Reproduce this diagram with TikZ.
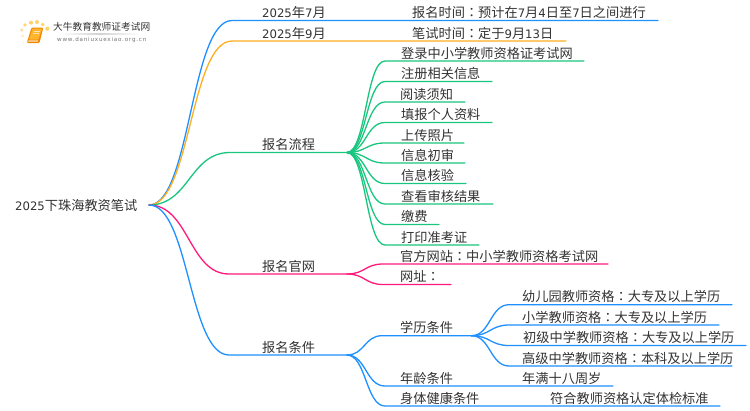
\documentclass[tikz,border=0pt]{standalone}
\usepackage{fontspec}
\usetikzlibrary{calc}
\setmainfont{Noto Sans CJK SC}
\newfontfamily\latf[Scale=0.885]{DejaVu Sans}
\newfontfamily\tcf{Noto Sans CJK TC}
\newfontfamily\urlf[LetterSpace=14]{DejaVu Sans}
\newcommand{\D}[1]{{\latf #1}}
\newcommand{\Cl}{{\tcf ：}}
\definecolor{cblue}{HTML}{1E90FF}
\definecolor{cgold}{HTML}{FFAE1F}
\definecolor{cgreen}{HTML}{19C67F}
\definecolor{cpink}{HTML}{FF1A7C}
\definecolor{ctext}{HTML}{333333}
\definecolor{bookdark}{HTML}{F08A00}
\definecolor{booklight}{HTML}{FFB52E}
\definecolor{dotc}{HTML}{FFD36B}
\tikzset{
  lab/.style={anchor=base west,inner sep=0pt,text=ctext,font=\fontsize{13.2}{15}\selectfont},
  wire/.style={line width=1.3pt,line cap=round},
}
% \lnk{colour}{from}{elbow}{end}
\newcommand{\lnk}[4]{%
  \draw[wire,#1] let \p1=(#2),\p2=(#3),\n1={(\x1+\x2)/2} in
    (#2) .. controls (\n1,\y1) and (\n1,\y2) .. (#3) -- (#4);}
% \lf{name}{colour}{from}{elbow x}{y}{end x}{text x}{text}
\newcommand{\lf}[8]{%
  \coordinate (#1a) at (#4,#5);
  \coordinate (#1b) at (#6,#5);
  \lnk{#2}{#3}{#1a}{#1b}
  \node[lab] (#1) at (#7,#5-2.9) {#8};}
\begin{document}
\begin{tikzpicture}[x=1pt,y=-1pt]
\useasboundingbox (0,0) rectangle (750,410);
\fill[white] (0,0) rectangle (750,410);

% logo
\foreach \px/\py/\r/\o in {21.7/30/1.6/.8,25/25/1.8/.9,31/22.7/2/1,37/22/2/1,42.7/24.5/1.9/1,47.3/28.7/2.1/1,22.7/36/1.3/.5,23.3/42.5/1/.3}
  \fill[dotc,opacity=\o] (\px,\py) circle (\r);
\fill[bookdark,rounded corners=1.2pt] (31.5,27.5) -- (43.3,27.5) -- (39.5,43) -- (26.8,43) -- cycle;
\fill[booklight,rounded corners=.8pt] (32.5,28.5) -- (42,28.5) -- (38.4,39.5) -- (29,39.5) -- cycle;
\fill[white,opacity=.75] (28.5,40.4) -- (38.2,40.4) -- (37.8,41.7) -- (28.1,41.7) -- cycle;
\draw[white,opacity=.6,line width=.5pt] (34,31) -- (40,31) (33.3,33.5) -- (39,33.5);
\node[anchor=base west,inner sep=0pt,text=ctext,font=\fontsize{9.7}{11}\selectfont] (logo) at (53,30.8) {大牛教育教师证考试网};
\shade[left color=white,right color=white,middle color=black!18] (60,33.2) rectangle (140,34);
\node[anchor=base west,inner sep=0pt,text=black!55,font=\fontsize{5.6}{7}\urlf] (url) at (57,41) {www.daniuxuexiao.org.cn};

% root
\node[lab] (root) at (15,210.2) {\D{2025}下珠海教资笔试};
\coordinate (r) at (149,205);

% level one
\lf{jul}{cblue}{r}{232}{20.5}{658}{262}{\D{2025}年\D{7}月}
\node[lab] (julb) at (412,17.6) {报名时间\Cl 预计在\D{7}月\D{4}日至\D{7}日之间进行};
\lf{sep}{cgold}{r}{232}{41}{566}{262}{\D{2025}年\D{9}月}
\node[lab] (sepb) at (412,38.1) {笔试时间\Cl 定于\D{9}月\D{13}日};
\lf{flow}{cgreen}{r}{230}{152.5}{347}{262}{报名流程}
\lf{site}{cpink}{r}{229}{274}{347}{262}{报名官网}
\lf{cond}{cblue}{r}{229}{355}{347}{262}{报名条件}

% process
\coordinate (fs) at (flowb);
\lf{a1}{cgreen}{fs}{385}{61}{584}{401}{登录中小学教师资格证考试网}
\lf{a2}{cgreen}{fs}{385}{81.5}{492}{401}{注册相关信息}
\lf{a3}{cgreen}{fs}{385}{102}{465}{400}{阅读须知}
\lf{a4}{cgreen}{fs}{385}{122.5}{492}{401}{填报个人资料}
\lf{a5}{cgreen}{fs}{385}{143}{464}{401}{上传照片}
\lf{a6}{cgreen}{fs}{385}{163}{465}{401}{信息初审}
\lf{a7}{cgreen}{fs}{385}{183.5}{466}{401}{信息核验}
\lf{a8}{cgreen}{fs}{385}{204}{493}{401}{查看审核结果}
\lf{a9}{cgreen}{fs}{385}{224.5}{439}{401}{缴费}
\lf{a10}{cgreen}{fs}{385}{245}{479}{401}{打印准考证}

% official site
\coordinate (ss) at (siteb);
\lf{b1}{cpink}{ss}{383}{264}{608}{400}{官方网站\Cl 中小学教师资格考试网}
\lf{b2}{cpink}{ss}{383}{284.5}{451}{400}{网址\Cl}

% conditions
\coordinate (cs) at (condb);
\lf{c1}{cblue}{cs}{382}{335.7}{471.5}{400}{学历条件}
\lf{c2}{cblue}{cs}{385}{386}{613}{400}{年龄条件}
\node[lab] (c2b) at (522,383.1) {年满十八周岁};
\lf{c3}{cblue}{cs}{385}{406}{720}{400}{身体健康条件}
\node[lab] (c3b) at (550,403.1) {符合教师资格认定体检标准};

% education
\coordinate (ds) at (c1b);
\lf{d1}{cblue}{ds}{509}{304.7}{732}{522}{幼儿园教师资格\Cl 大专及以上学历}
\lf{d2}{cblue}{ds}{509}{325}{719}{522}{小学教师资格\Cl 大专及以上学历}
\lf{d3}{cblue}{ds}{509}{345.5}{746}{523}{初级中学教师资格\Cl 大专及以上学历}
\lf{d4}{cblue}{ds}{509}{366}{732}{522}{高级中学教师资格\Cl 本科及以上学历}
\end{tikzpicture}
\end{document}
